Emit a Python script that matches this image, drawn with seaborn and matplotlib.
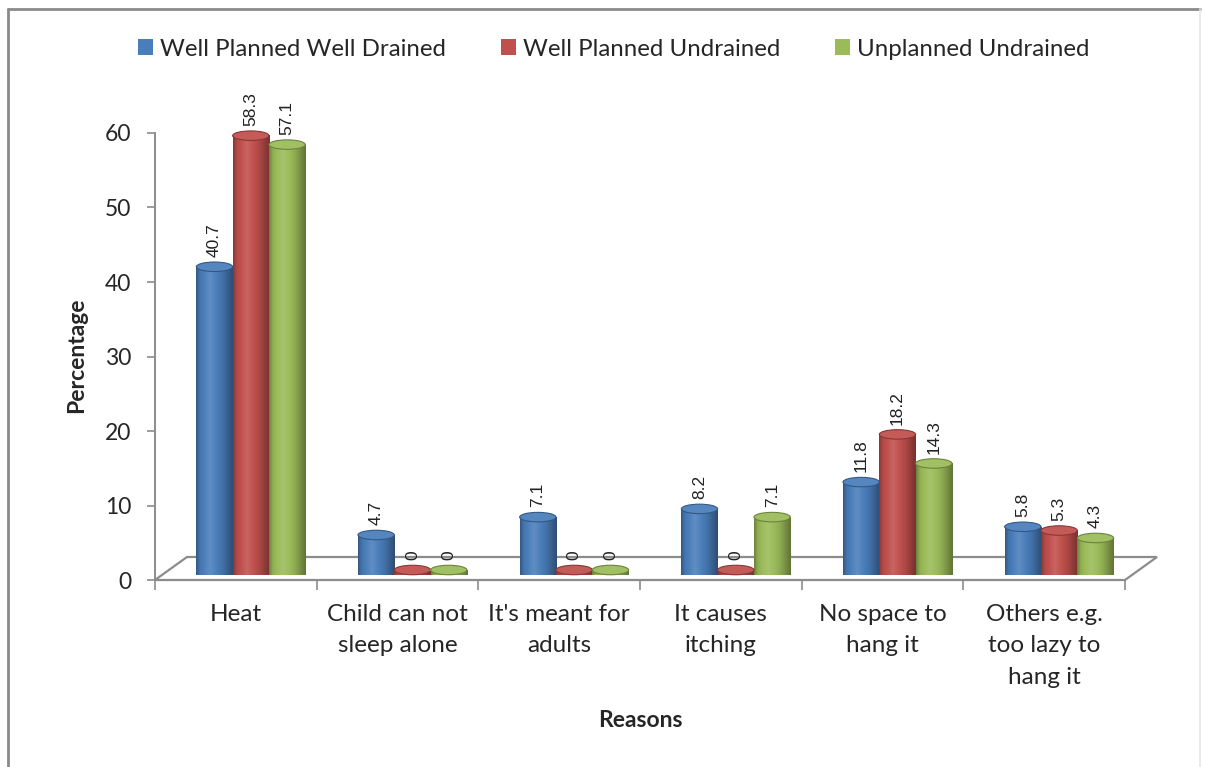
import numpy as np
import pandas as pd
import matplotlib
matplotlib.use("Agg")
import matplotlib.pyplot as plt
import seaborn as sns
from matplotlib.patches import Ellipse, PathPatch, Polygon, Patch
from matplotlib.path import Path
from matplotlib.transforms import ScaledTranslation
from matplotlib.lines import Line2D

# ---- data -------------------------------------------------------------
reasons = [
    "Heat",
    "Child can not\nsleep alone",
    "It's meant for\nadults",
    "It causes\nitching",
    "No space to\nhang it",
    "Others e.g.\ntoo lazy to\nhang it",
]
areas = ["Well Planned Well Drained", "Well Planned Undrained", "Unplanned Undrained"]
well_drained = [40.7, 4.7, 7.1, 8.2, 11.8, 5.8]
planned_undrained = [58.3, 0, 0, 0, 18.2, 5.3]
unplanned_undrained = [57.1, 0, 0, 7.1, 14.3, 4.3]
y_ticks = [0, 10, 20, 30, 40, 50, 60]

colors = ["#4A7EBB", "#C0504D", "#9BBB59"]

df = pd.DataFrame({
    "Reason": reasons * 3,
    "Area": np.repeat(areas, len(reasons)),
    "Percentage": well_drained + planned_undrained + unplanned_undrained,
})

# ---- style ------------------------------------------------------------
sns.set_style("white")
plt.rcParams["font.family"] = ["Lato", "DejaVu Sans"]

fig = plt.figure(figsize=(12.05, 7.67), dpi=100)
ax = fig.add_axes([0.1286, 0.2438, 0.805, 0.5828])

sns.barplot(data=df, x="Reason", y="Percentage", hue="Area", hue_order=areas,
            order=reasons, palette=colors, saturation=1, width=0.674,
            ax=ax, legend=False, errorbar=None, zorder=3)

ax.set_xlim(-0.5, 5.5)
ax.set_ylim(0, 60)

# bars sit in the middle of the floor depth
dx_px, dy_px = 15, 10
off = ScaledTranslation(dx_px / 100, dy_px / 100, fig.dpi_scale_trans)
tr = ax.transData + off

px_per_unit = ax.transData.transform((0, 1))[1] - ax.transData.transform((0, 0))[1]
eh_px = 9.5
eh = eh_px / px_per_unit


def shade(c, f):
    c = np.asarray(matplotlib.colors.to_rgb(c))
    if f < 1:
        return c * f
    return c + (1 - c) * (f - 1)


profile_t = np.linspace(0, 1, 60)
profile_f = np.interp(profile_t, [0, 0.1, 0.38, 0.72, 1.0], [0.7, 0.93, 1.12, 0.9, 0.62])

# floor of the 3-D plot area
bx, by = 32 / 970, 23 / 447
floor = Polygon([(0, 0), (1, 0), (1 + bx, by), (bx, by)], closed=True,
                transform=ax.transAxes, facecolor="white", edgecolor="#8c8c8c",
                lw=1.6, zorder=1, clip_on=False)
ax.add_patch(floor)

for container, base in zip(ax.containers, colors):
    for bar in container:
        x0, w, h = bar.get_x(), bar.get_width(), bar.get_height()
        cx = x0 + w / 2
        bar.set_transform(tr)
        bar.set_edgecolor("none")
        bar.set_clip_on(False)

        # cylinder body with horizontal shading
        grad = np.array([[shade(base, f) for f in profile_f]])
        theta = np.linspace(0, np.pi, 40)
        arc = list(zip(cx + (w / 2) * np.cos(theta), -(eh / 2) * np.sin(theta)))
        verts = [(x0, h), (x0 + w, h)] + arc + [(x0, h)]
        clip = PathPatch(Path(verts, closed=True), transform=tr)
        im = ax.imshow(grad, extent=[x0, x0 + w, -eh / 2, h], aspect="auto",
                       interpolation="bilinear", transform=tr, zorder=4,
                       clip_on=False)
        im.set_clip_path(clip)

        # top cap
        cap = Ellipse((cx, h), w, eh, transform=tr, zorder=5,
                      facecolor=shade(base, 1.06), edgecolor=shade(base, 0.7),
                      lw=0.8, clip_on=False)
        ax.add_patch(cap)

        ax.annotate(f"{h:g}", xy=(cx, h), xycoords="data",
                    xytext=(dx_px, dy_px + eh_px / 2 + 5), textcoords="offset pixels",
                    rotation=90, ha="center", va="bottom", fontsize=12.5,
                    family=["Liberation Sans", "DejaVu Sans"], color="#222222",
                    zorder=6)

ax.set_xlim(-0.5, 5.5)
ax.set_ylim(0, 60)

# ---- axes -------------------------------------------------------------
for s in ["top", "right", "bottom"]:
    ax.spines[s].set_visible(False)
ax.spines["left"].set_color("#8c8c8c")
ax.spines["left"].set_linewidth(1.4)

ax.set_yticks(y_ticks)
ax.tick_params(axis="y", length=6, width=1.2, color="#8c8c8c", pad=11,
               labelsize=16.5, labelcolor="#262626", left=True)
ax.set_xticks(range(len(reasons)))
ax.set_xticklabels(reasons, fontsize=17.5, color="#262626", va="top")
for t in ax.get_xticklabels():
    t.set_linespacing(1.62)
ax.set_xticks(np.arange(-0.5, 6.0, 1.0), minor=True)
ax.tick_params(axis="x", which="major", length=0, pad=17)
ax.tick_params(axis="x", which="minor", length=7, width=1.2, color="#8c8c8c",
               bottom=True, direction="out")

ax.set_xlabel("Reasons", fontsize=16.5, fontweight="bold", color="#262626")
ax.xaxis.set_label_coords(0.5, -0.29)
ax.xaxis.label.set_va("top")
ax.set_ylabel("Percentage", fontsize=16.5, fontweight="bold", color="#262626")
ax.yaxis.set_label_coords(-0.07, 0.503)

# ---- legend -----------------------------------------------------------
handles = [Patch(facecolor=c, edgecolor="none") for c in colors]
fig.legend(handles, areas, loc="center", bbox_to_anchor=(0.5095, 0.936), ncol=3,
           frameon=False, fontsize=17.3, handlelength=0.6, handleheight=0.6,
           handletextpad=0.3, columnspacing=2.3, labelcolor="#262626")

# outer chart frame
fig.add_artist(Line2D([8 / 1205, 8 / 1205], [0, 1 - 9 / 767], transform=fig.transFigure,
                      color="#8a8a8a", lw=2))
fig.add_artist(Line2D([8 / 1205, 1200 / 1205], [1 - 9 / 767, 1 - 9 / 767],
                      transform=fig.transFigure, color="#8a8a8a", lw=2))
fig.add_artist(Line2D([1200 / 1205, 1200 / 1205], [0, 1 - 9 / 767],
                      transform=fig.transFigure, color="#e6e6e6", lw=1.2))

fig.savefig("out.png", dpi=100, facecolor="white")
